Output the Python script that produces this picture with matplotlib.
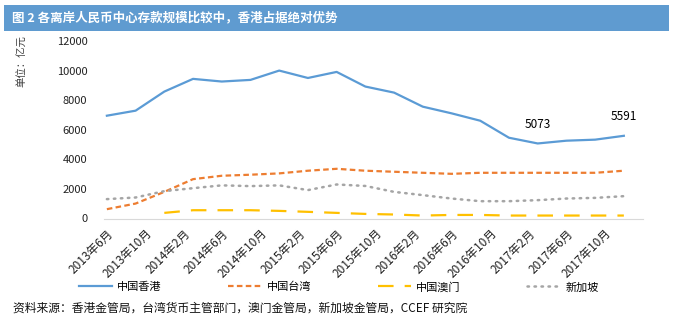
import matplotlib
matplotlib.use('Agg')
import matplotlib.pyplot as plt
from matplotlib.patches import Rectangle

plt.rcParams['font.family'] = ['Noto Sans CJK SC', 'DejaVu Sans']

# quarterly data, 2013-06 .. 2017-12 (months since 2013-06)
months = list(range(0, 55, 3))
hongkong = [6950, 7290, 8580, 9440, 9260, 9370, 10000, 9500, 9910, 8920,
            8510, 7560, 7110, 6610, 5460, 5073, 5260, 5330, 5591]
taiwan = [630, 1010, 1800, 2660, 2890, 2960, 3050, 3230, 3360, 3230,
          3160, 3090, 3020, 3090, 3090, 3090, 3090, 3090, 3230]
macau = [None, None, 380, 560, 560, 560, 515, 450, 380, 310,
         270, 200, 240, 240, 200, 200, 200, 200, 200]
singapore = [1310, 1420, 1850, 2050, 2240, 2190, 2240, 1920, 2300, 2200,
             1800, 1580, 1350, 1170, 1170, 1240, 1350, 1395, 1510]

tick_months = list(range(0, 53, 4))
tick_labels = ['2013年6月', '2013年10月', '2014年2月', '2014年6月', '2014年10月',
               '2015年2月', '2015年6月', '2015年10月', '2016年2月', '2016年6月',
               '2016年10月', '2017年2月', '2017年6月', '2017年10月']

fig = plt.figure(figsize=(6.73, 3.31), dpi=100)
fig.patches.append(Rectangle((4/673, 1-31/331), 665/673, 26/331, transform=fig.transFigure,
                             facecolor='#5f9bd0', edgecolor='none'))
fig.text(12/673, 1-18/331, '图 2 各离岸人民币中心存款规模比较中，香港占据绝对优势',
         color='white', fontsize=9, fontweight='bold', va='center', ha='left')

ax = fig.add_axes([104/673, 1-218.5/331, 539/673, 177.5/331])
mx = [m for m, v in zip(months, macau) if v is not None]
mv = [v for v in macau if v is not None]
ax.plot(months, hongkong, color='#5b9bd5', lw=1.6, label='中国香港')
ax.plot(months, taiwan, color='#ed7d31', lw=1.6, dashes=(2.5, 1.5), label='中国台湾')
ax.plot(mx, mv, color='#ffc000', lw=1.6, dashes=(7, 5), label='中国澳门')
ax.plot(months, singapore, color='#a5a5a5', lw=1.8, dashes=(0.6, 2.2),
        dash_capstyle='round', label='新加坡')

for i in (15, 18):
    ax.annotate(str(hongkong[i]), (months[i], hongkong[i]), xytext=(0, 9),
                textcoords='offset points', ha='center', va='bottom', fontsize=8.5)

ax.set_xlim(-0.3, 56)
ax.set_ylim(0, 12000)
ax.set_yticks(range(0, 12001, 2000))
ax.set_xticks(tick_months)
ax.set_xticklabels(tick_labels, rotation=45, ha='right', rotation_mode='anchor')
ax.tick_params(axis='y', length=0, labelsize=8, pad=12, labelcolor='#222222')
ax.tick_params(axis='x', length=0, pad=6, labelsize=8.5, labelcolor='#222222')
for s in ('top', 'right', 'left'):
    ax.spines[s].set_visible(False)
ax.spines['bottom'].set_color('#d9d9d9')

fig.text(22/673, 1-35/331, '单位：亿元', rotation=90, fontsize=7.5, color='#404040',
         ha='center', va='top')

fig.legend(loc='center', bbox_to_anchor=(339/673, 1-287/331), ncol=4, frameon=False,
           fontsize=8, handlelength=3.0, columnspacing=6.0, handletextpad=0.45)

fig.text(13/673, 1-308/331, '资料来源：香港金管局，台湾货币主管部门，澳门金管局，新加坡金管局，CCEF 研究院',
         fontsize=8.5, ha='left', va='center', color='#111111')

fig.savefig('out.png', dpi=100)
